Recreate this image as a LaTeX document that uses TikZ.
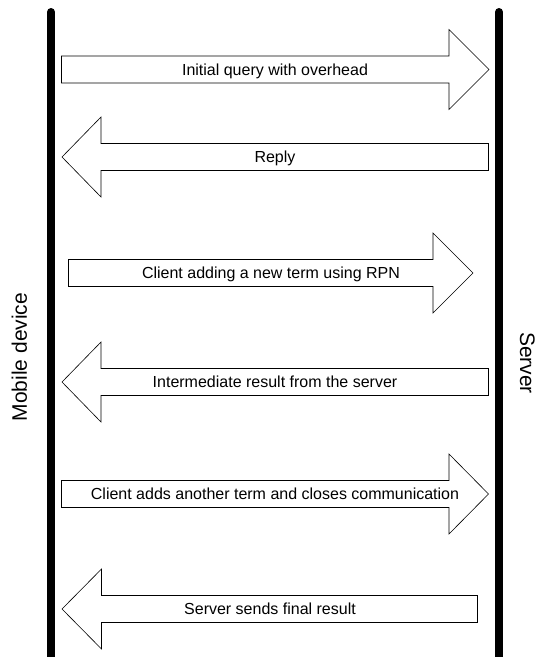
\documentclass[tikz,border=0pt]{standalone}
\usepackage{fontspec}
\setmainfont{Liberation Sans}
\tikzset{lifeline/.style={line width=8pt,line cap=round}}
\tikzset{msg/.style={draw,line width=0.6pt,fill=white}}
\tikzset{msglabel/.style={font=\fontsize{16}{19}\selectfont,text height=11.5pt,text depth=0pt,inner sep=0pt}}
\tikzset{sidelabel/.style={font=\fontsize{21}{25}\selectfont,text height=15pt,text depth=0pt,inner sep=0pt}}

\begin{document}
\begin{tikzpicture}[x=1pt,y=-1pt]
\useasboundingbox (0,0) rectangle (540,657);

% Draw the two lifelines
\coordinate (M1) at (51,12);
\coordinate (M2) at (51,665);
\coordinate (S1) at (499,12);
\coordinate (S2) at (499,665);
\draw [lifeline] (M1) -- (M2);
\draw [lifeline] (S1) -- (S2);

\node [sidelabel,rotate=90]  (mobile) at (19.5,357) {Mobile device};
\node [sidelabel,rotate=-90] (server) at (527.5,363) {Server};

% Messages, top to bottom

\draw [msg] (61.5,56) -- (449,56) -- (449,29.5) -- (489,69.5)
   -- (449,109.5) -- (449,83) -- (61.5,83) -- cycle;
\node [msglabel] (query) at (275,69.5) {Initial query with overhead};

\draw [msg] (62,157) -- (101,117) -- (101,143.5) -- (488.5,143.5)
   -- (488.5,170.5) -- (101,170.5) -- (101,197) -- cycle;
\node [msglabel] (reply) at (275,157) {Reply};

\draw [msg] (68.5,259.5) -- (433,259.5) -- (433,233) -- (473,273)
   -- (433,313) -- (433,286.5) -- (68.5,286.5) -- cycle;
\node [msglabel] (newterm) at (271,273) {Client adding a new term using RPN};

\draw [msg] (62,382) -- (101,342) -- (101,368.5) -- (488.5,368.5)
   -- (488.5,395.5) -- (101,395.5) -- (101,422) -- cycle;
\node [msglabel] (interm) at (275,382) {Intermediate result from the server};

\draw [msg] (61.5,480.5) -- (449,480.5) -- (449,454) -- (488.5,494)
   -- (449,534) -- (449,507.5) -- (61.5,507.5) -- cycle;
\node [msglabel] (closing) at (275,494) {Client adds another term and closes communication};

\draw [msg] (62,609) -- (101.5,569) -- (101.5,595.5) -- (477.5,595.5)
   -- (477.5,622.5) -- (101.5,622.5) -- (101.5,649) -- cycle;
\node [msglabel] (final) at (270,609) {Server sends final result};
\end{tikzpicture}
\end{document}
